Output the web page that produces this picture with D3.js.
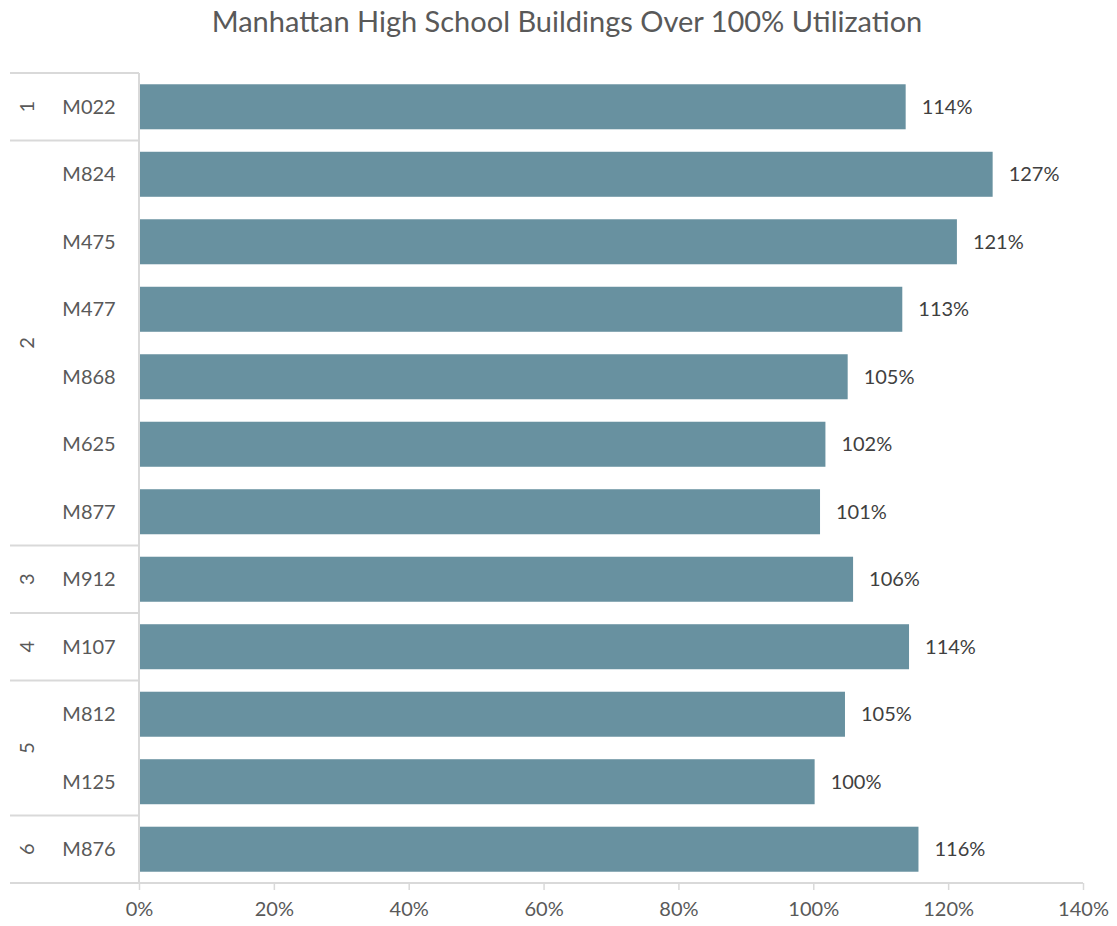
<!DOCTYPE html>
<html>
<head>
<meta charset="utf-8">
<script src="https://cdn.jsdelivr.net/npm/d3@7"></script>
<style>
  body { margin: 0; background: #fff; }
  text { font-family: "Gill Sans", "Lato", "Open Sans", sans-serif; }
</style>
</head>
<body>
<div id="chart"></div>
<script>
// district for each building (outer category level)
const districts = ["1", "2", "2", "2", "2", "2", "2", "3", "4", "5", "5", "6"];
// building codes (inner category level)
const buildings = ["M022", "M824", "M475", "M477", "M868", "M625", "M877", "M912", "M107", "M812", "M125", "M876"];
// utilization in percent
const utilization = [113.7, 126.6, 121.3, 113.2, 105.1, 101.8, 101.0, 105.9, 114.2, 104.7, 100.2, 115.6];
const xTicks = [0, 20, 40, 60, 80, 100, 120, 140];

const W = 1117, H = 926;
const plotLeft = 139, plotRight = 1083, plotTop = 73, plotBottom = 883;

const svg = d3.select("#chart").append("svg")
  .attr("width", W)
  .attr("height", H);

// title
svg.append("text")
  .attr("x", 567)
  .attr("y", 32)
  .attr("text-anchor", "middle")
  .attr("font-size", 29)
  .attr("fill", "#595959")
  .text("Manhattan High School Buildings Over 100% Utilization");

const x = d3.scaleLinear().domain([0, 140]).range([plotLeft, plotRight]);
const y = d3.scaleBand()
  .domain(buildings)
  .range([plotTop, plotBottom])
  .paddingInner(0.333)
  .paddingOuter(0.167);

const gridColor = "#d9d9d9";

// bars
svg.selectAll(".bar")
  .data(buildings)
  .enter().append("rect")
  .attr("class", "bar")
  .attr("x", x(0))
  .attr("y", d => y(d))
  .attr("width", (d, i) => x(utilization[i]) - x(0))
  .attr("height", y.bandwidth())
  .attr("fill", "#6891a0");

// value labels
svg.selectAll(".val")
  .data(buildings)
  .enter().append("text")
  .attr("class", "val")
  .attr("x", (d, i) => x(utilization[i]) + 16)
  .attr("y", d => y(d) + y.bandwidth() / 2)
  .attr("dy", "0.35em")
  .attr("font-size", 20)
  .attr("fill", "#404040")
  .text((d, i) => Math.round(utilization[i]) + "%");

// x axis
const xAxis = svg.append("g")
  .attr("transform", `translate(0,${plotBottom})`)
  .call(d3.axisBottom(x)
    .tickValues(xTicks)
    .tickFormat(d => d + "%")
    .tickSize(7)
    .tickPadding(12));
xAxis.select(".domain").remove();
xAxis.selectAll(".tick line").attr("stroke", gridColor).attr("stroke-width", 1.5);
xAxis.selectAll(".tick text")
  .attr("font-size", 20)
  .attr("fill", "#595959")
  .attr("font-family", null);

// bottom axis line spanning the category area too
svg.append("line")
  .attr("x1", 10).attr("x2", plotRight)
  .attr("y1", plotBottom).attr("y2", plotBottom)
  .attr("stroke", gridColor).attr("stroke-width", 2);

// vertical category axis line
svg.append("line")
  .attr("x1", plotLeft).attr("x2", plotLeft)
  .attr("y1", plotTop).attr("y2", plotBottom)
  .attr("stroke", gridColor).attr("stroke-width", 2);

// building labels
svg.selectAll(".bld")
  .data(buildings)
  .enter().append("text")
  .attr("class", "bld")
  .attr("x", 89)
  .attr("y", d => y(d) + y.bandwidth() / 2)
  .attr("dy", "0.35em")
  .attr("text-anchor", "middle")
  .attr("font-size", 20)
  .attr("fill", "#595959")
  .text(d => d);

// group the consecutive districts
const groups = [];
districts.forEach((d, i) => {
  const last = groups[groups.length - 1];
  if (last && last.name === d) last.end = i;
  else groups.push({ name: d, start: i, end: i });
});

const half = y.step() * y.paddingInner() / 2;
const groupTop = g => y(buildings[g.start]) - half;
const groupBottom = g => y(buildings[g.end]) + y.bandwidth() + half;

// separators between districts
svg.selectAll(".sep")
  .data(groups)
  .enter().append("line")
  .attr("class", "sep")
  .attr("x1", 10).attr("x2", plotLeft)
  .attr("y1", g => groupTop(g))
  .attr("y2", g => groupTop(g))
  .attr("stroke", gridColor).attr("stroke-width", 2);

// district labels, rotated
svg.selectAll(".dist")
  .data(groups)
  .enter().append("text")
  .attr("class", "dist")
  .attr("transform", g => `translate(27,${(groupTop(g) + groupBottom(g)) / 2}) rotate(-90)`)
  .attr("dy", "0.35em")
  .attr("text-anchor", "middle")
  .attr("font-size", 20)
  .attr("fill", "#595959")
  .text(g => g.name);
</script>
</body>
</html>
